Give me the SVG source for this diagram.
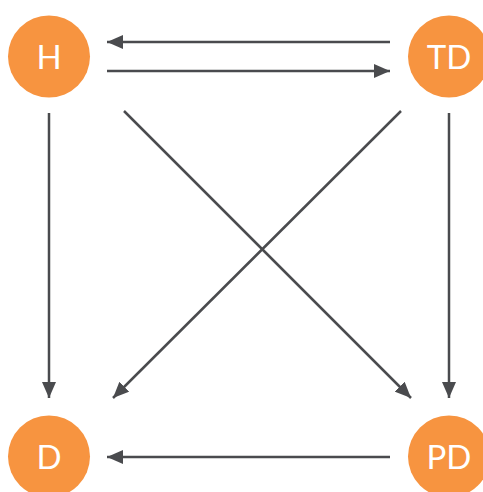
<svg xmlns="http://www.w3.org/2000/svg" width="483" height="492" viewBox="0 0 483 492">
  <style>
    .node circle { fill: #f79440; }
    .node text { fill: #ffffff; font-family: Lato, "Open Sans", "Liberation Sans", sans-serif; font-weight: 400; font-size: 33px; text-anchor: middle; }
    .edge { stroke: #4a4b4e; stroke-width: 2.5; fill: none; marker-end: url(#arrow); }
  </style>
  <defs>
    <marker id="arrow" viewBox="0 0 16 14" refX="16" refY="7" markerWidth="16" markerHeight="14" markerUnits="userSpaceOnUse" orient="auto">
      <path d="M0,0 L16,7 L0,14 Z" fill="#4a4b4e"/>
    </marker>
  </defs>

  <g id="connectors">
    <line class="edge" x1="390" y1="42" x2="107" y2="42"/>
    <line class="edge" x1="107" y1="71" x2="390" y2="71"/>
    <line class="edge" x1="49" y1="113" x2="49" y2="398"/>
    <line class="edge" x1="449" y1="113" x2="449" y2="398"/>
    <line class="edge" x1="124" y1="111" x2="411" y2="398"/>
    <line class="edge" x1="401" y1="111" x2="113" y2="398"/>
    <line class="edge" x1="390" y1="457" x2="107" y2="457"/>
  </g>

  <g id="H" class="node">
    <circle cx="49" cy="56.5" r="41"/>
    <text x="49" y="68.5">H</text>
  </g>
  <g id="TD" class="node">
    <circle cx="449" cy="56.5" r="41"/>
    <text x="449" y="68.5">TD</text>
  </g>
  <g id="D" class="node">
    <circle cx="49" cy="456.5" r="41"/>
    <text x="49" y="468.5">D</text>
  </g>
  <g id="PD" class="node">
    <circle cx="449" cy="456.5" r="41"/>
    <text x="449" y="468.5">PD</text>
  </g>
</svg>
